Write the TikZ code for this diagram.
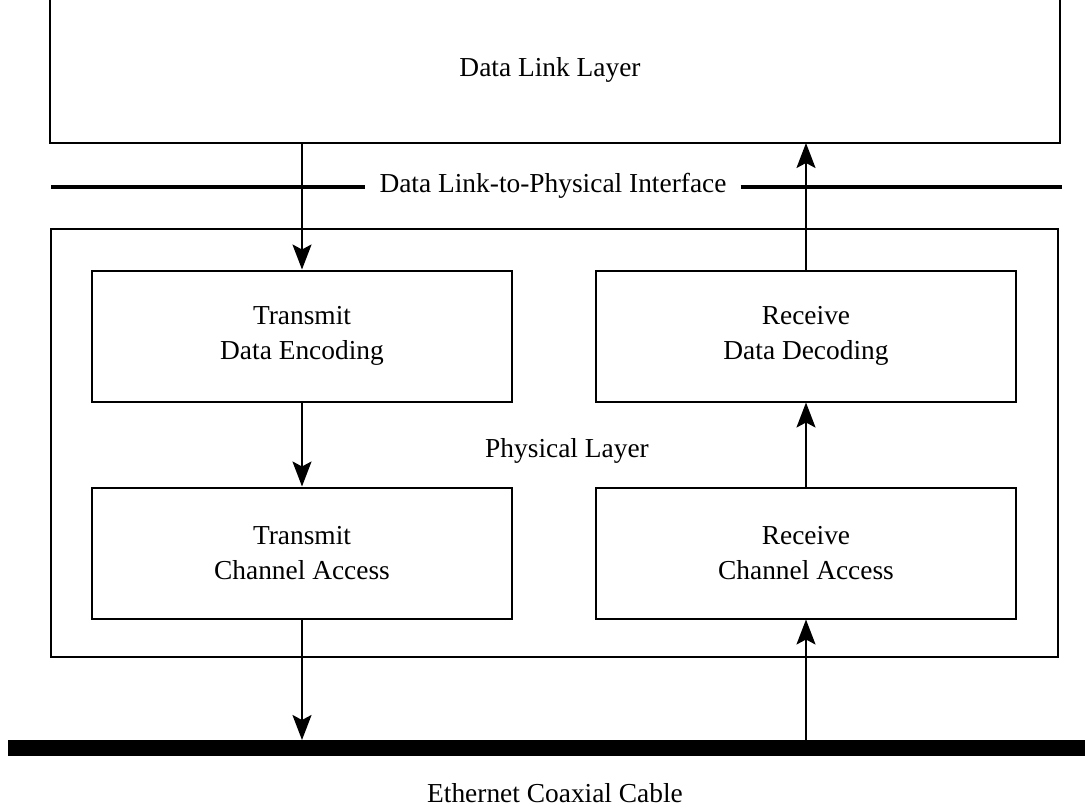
\documentclass[tikz,border=0pt]{standalone}
\usepackage{fontspec}
\setmainfont{Liberation Serif}
\usetikzlibrary{arrows.meta}
\begin{document}
\begin{tikzpicture}[x=1pt,y=-1pt,
  every node/.style={font=\fontsize{27.4}{35}\selectfont},
  blockbox/.style={draw,line width=2pt,minimum width=420pt,minimum height=131pt,align=center,inner sep=0pt},
  framebox/.style={draw,line width=2pt,inner sep=0pt},
  flow/.style={line width=2pt,-{Stealth[length=25pt,width=19pt,inset=5pt]}},
  ifline/.style={line width=4.5pt},
  cableline/.style={line width=16pt},
  lbl/.style={inner sep=0pt}
]
\useasboundingbox (0,0) rectangle (1085,808);
% Data link layer (open top)
\draw[line width=2pt] (50,-10) -- (50,143) -- (1060,143) -- (1060,-10);
\node[lbl] (dll) at (550,70) {Data Link Layer};
\coordinate (dllL) at (302,143);
\coordinate (dllR) at (806,143);
% Interface
\node[lbl,inner xsep=14pt] (ifc) at (553,186) {Data Link-to-Physical Interface};
\coordinate (ifL) at (51,187);
\coordinate (ifR) at (1062,187);
\draw[ifline] (ifL) -- (ifc.west |- ifL);
\draw[ifline] (ifc.east |- ifR) -- (ifR);
% Physical layer frame
\node[framebox,minimum width=1007pt,minimum height=428pt] (phys) at (554.5,443) {};
\node[lbl,anchor=base] (physlbl) at (567,457) {Physical Layer};
% Blocks
\node[blockbox] (tde) at (302,336) {Transmit\\Data Encoding};
\node[blockbox] (rdd) at (806,336) {Receive\\Data Decoding};
\node[blockbox] (tca) at (302,553) {Transmit\\Channel Access};
\node[blockbox] (rca) at (806,553) {Receive\\Channel Access};
% Cable
\coordinate (cabW) at (8,748);
\coordinate (cabE) at (1085,748);
\draw[cableline] (cabW) -- (cabE);
\coordinate (cabL) at (302,740);
\coordinate (cabR) at (806,740);
\node[lbl] (cablbl) at (555,793) {Ethernet Coaxial Cable};
% Arrows
\draw[flow] (dllL) -- (tde.north);
\draw[flow] (rdd.north) -- (dllR);
\draw[flow] (tde.south) -- (tca.north);
\draw[flow] (rca.north) -- (rdd.south);
\draw[flow] (tca.south) -- (cabL);
\draw[flow] (cabR) -- (rca.south);
\end{tikzpicture}
\end{document}
